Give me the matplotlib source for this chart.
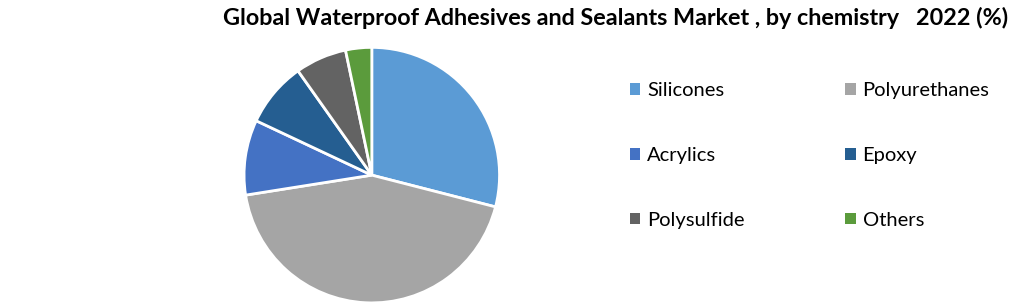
import matplotlib
matplotlib.use("Agg")
import matplotlib.pyplot as plt

# market share by chemistry, 2022 (%)
labels = ["Silicones", "Polyurethanes", "Acrylics", "Epoxy", "Polysulfide", "Others"]
shares = [29.0, 43.5, 9.5, 8.2, 6.5, 3.3]
colors = ["#5B9BD5", "#A5A5A5", "#4472C4", "#255E91", "#636363", "#5B9B3C"]

title = "Global Waterproof Adhesives and Sealants Market , by chemistry   2022 (%)"

fig = plt.figure(figsize=(10.2, 3.03), dpi=100)
ax = fig.add_axes([0.238, -0.004, 0.253, 0.852])

wedges, _ = ax.pie(shares, colors=colors, startangle=90, counterclock=False,
                   wedgeprops=dict(edgecolor="white", linewidth=2))
ax.set_xlim(-1.01, 1.01)
ax.set_ylim(-1.01, 1.01)
ax.set_aspect("equal")

fig.text(0.988, 0.94, title, ha="right", va="center",
         fontsize=16.8, fontweight="bold", family="Lato")

# legend fills row by row in the reference -> reorder for matplotlib's column fill
order = [0, 2, 4, 1, 3, 5]
leg = fig.legend([wedges[i] for i in order], [labels[i] for i in order],
                 loc="upper left", bbox_to_anchor=(0.6, 0.788),
                 ncol=2, frameon=False, prop=dict(family="Lato", size=14.5),
                 handlelength=0.5, handleheight=0.5, handletextpad=0.35,
                 labelspacing=2.37, columnspacing=5.0)
for h in leg.legend_handles:
    h.set_edgecolor("none")

fig.savefig("out.png", dpi=100)
